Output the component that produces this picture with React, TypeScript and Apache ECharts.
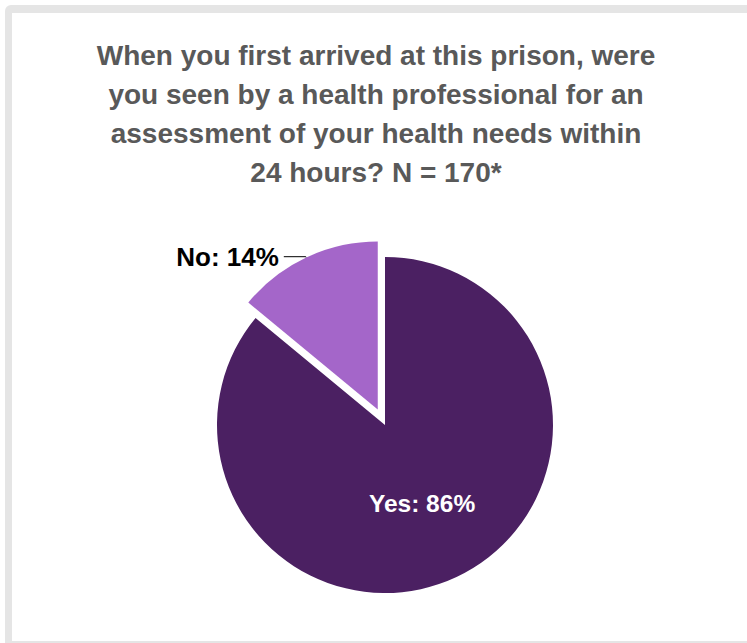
import React, { useEffect, useRef } from "react";
import * as echarts from "echarts";

const titleLines = [
  "When you first arrived at this prison, were",
  "you seen by a health professional for an",
  "assessment of your health needs within",
  "24 hours? N = 170*",
];
const categories = ["Yes", "No"];
const values = [86, 14];
const colors = ["#4b2062", "#a466c9"];

export default function App() {
  const ref = useRef<HTMLDivElement>(null);
  useEffect(() => {
    if (!ref.current) return;
    const chart = echarts.init(ref.current, null, { renderer: "svg" });
    const font = "'Liberation Sans', Arial, sans-serif";
    const frame = "#e5e5e5";
    chart.setOption({
      animation: false,
      backgroundColor: "#ffffff",
      graphic: [
        {
          type: "rect",
          shape: { x: 5, y: 5, width: 760, height: 650, r: 6 },
          style: { fill: frame },
          z: -2,
        },
        {
          type: "rect",
          shape: { x: 12, y: 13, width: 760, height: 628 },
          style: { fill: "#ffffff" },
          z: -1,
        },
        {
          type: "text",
          x: 376,
          y: 36,
          style: {
            text: titleLines.join("\n"),
            font: `bold 28px ${font}`,
            fill: "#595959",
            align: "center",
            verticalAlign: "top",
            lineHeight: 39,
          },
        },
      ],
      series: [
        {
          type: "pie",
          center: [385, 425],
          radius: [0, 168],
          startAngle: 90,
          clockwise: true,
          selectedMode: "single",
          selectedOffset: 17,
          label: { fontFamily: font, fontWeight: "bold" },
          data: categories.map((c, i) => ({
            name: c,
            value: values[i],
            selected: c === "No",
            itemStyle: { color: colors[i] },
            label:
              c === "Yes"
                ? {
                    position: "inside",
                    formatter: "{b}: {c}%",
                    color: "#ffffff",
                    fontSize: 24.5,
                    fontWeight: "bold",
                    fontFamily: font,
                  }
                : {
                    position: "outside",
                    formatter: "{b}: {c}%",
                    color: "#000000",
                    fontSize: 26,
                    fontWeight: "bold",
                    fontFamily: font,
                    distanceToLabelLine: 5,
                  },
            labelLine:
              c === "No"
                ? { show: true, length: 1, length2: 22, lineStyle: { color: "#000000", width: 1 } }
                : { show: false },
          })),
          emphasis: { disabled: true },
        },
      ],
    });
    return () => chart.dispose();
  }, []);
  return (
    <div
      ref={ref}
      style={{ position: "absolute", left: 0, top: 0, width: 747, height: 643 }}
    />
  );
}
